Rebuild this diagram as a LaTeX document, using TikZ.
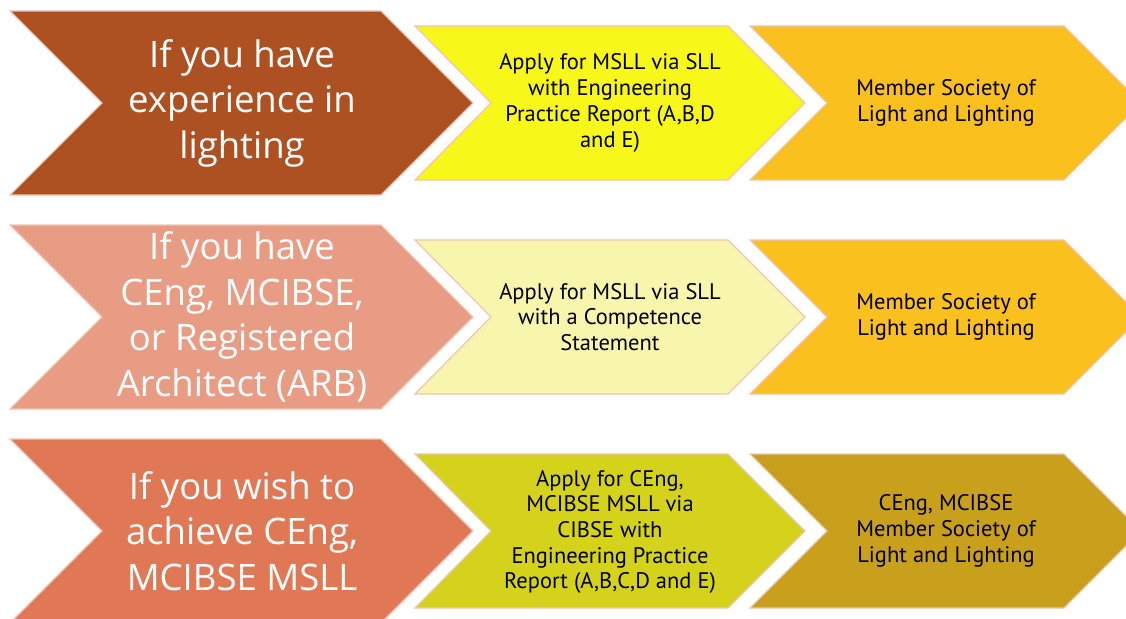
\documentclass[tikz,border=0pt]{standalone}
\usepackage{fontspec}
\setmainfont{Open Sans}
\newfontfamily\narrowfont{PT Sans}
\definecolor{rustbrown}{HTML}{AD5122}
\definecolor{salmon}{HTML}{E99C84}
\definecolor{coral}{HTML}{E07856}
\definecolor{lemon}{HTML}{F7F71A}
\definecolor{paleyellow}{HTML}{F8F6AC}
\definecolor{olive}{HTML}{D4D21A}
\definecolor{amber}{HTML}{F9C01E}
\definecolor{darkgold}{HTML}{C9A01C}
\definecolor{edgepink}{HTML}{EDC6B4}

\begin{document}
\begin{tikzpicture}[x=1pt,y=-1pt,
    chev/.style={draw=edgepink, line width=1.2pt, line join=miter},
    bigtext/.style={text=white, align=center, font=\fontsize{36.5}{45.5}\selectfont},
    smalltext/.style={text=black, align=center, font=\narrowfont\fontsize{22.5}{25.7}\selectfont}]
  \useasboundingbox (0,0) rectangle (1126,618);
  \clip (0,0) rectangle (1126,618);
  % chevrons, one row each
  \foreach \c/\bg/\mid/\last in {103/rustbrown/lemon/amber,
      317/salmon/paleyellow/amber, 531/coral/olive/darkgold} {
    \filldraw[chev, fill=\bg] (10,\c-92) -- (381,\c-92) -- (473,\c)
      -- (381,\c+92) -- (10,\c+92) -- (102,\c) -- cycle;
    \filldraw[chev, fill=\mid] (415,\c-77) -- (728,\c-77) -- (805,\c)
      -- (728,\c+77) -- (415,\c+77) -- (491,\c) -- cycle;
    \filldraw[chev, fill=\last] (750,\c-77) -- (1064,\c-77) -- (1141,\c)
      -- (1064,\c+77) -- (750,\c+77) -- (827,\c) -- cycle;
  }
  % row 1
  \node[bigtext] (exp) at (242,103) {If you have\\experience in\\lighting};
  \node[smalltext] (apply1) at (610,103) {Apply for MSLL via SLL\\with Engineering\\Practice Report (A,B,D\\and E)};
  \node[smalltext] (member1) at (946,103) {Member Society of\\Light and Lighting};
  % row 2
  \node[bigtext] (cert) at (242,317) {If you have\\CEng, MCIBSE,\\or Registered\\Architect (ARB)};
  \node[smalltext] (apply2) at (610,317) {Apply for MSLL via SLL\\with a Competence\\Statement};
  \node[smalltext] (member2) at (946,317) {Member Society of\\Light and Lighting};
  % row 3
  \node[bigtext] (wish) at (242,531) {If you wish to\\achieve CEng,\\MCIBSE MSLL};
  \node[smalltext] (apply3) at (610,532) {Apply for CEng,\\MCIBSE MSLL via\\CIBSE with\\Engineering Practice\\Report (A,B,C,D and E)};
  \node[smalltext] (member3) at (946,531) {CEng, MCIBSE\\Member Society of\\Light and Lighting};
\end{tikzpicture}
\end{document}
